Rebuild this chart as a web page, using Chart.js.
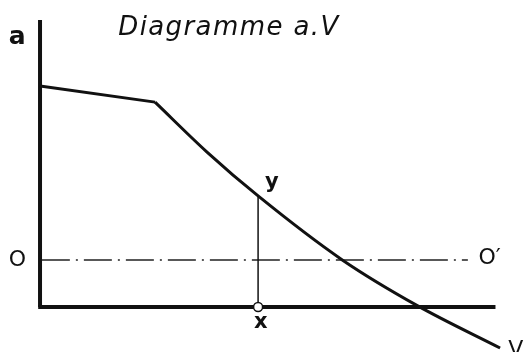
<!DOCTYPE html>
<html>
<head>
<meta charset="utf-8">
<script src="https://cdn.jsdelivr.net/npm/chart.js@4"></script>
<style>
  html, body { margin: 0; padding: 0; background: #fff; }
  #wrap { width: 524px; height: 352px; }
</style>
</head>
<body>
<div id="wrap"><canvas id="chart" width="524" height="352"></canvas></div>
<script>
// values in diagram units: V from 0 to 100 along the bottom axis, a from 0 to 100 up the side
const flatV = [0, 25];
const flatA = [77, 71.4];
const curveV = [25, 36.3, 47.4, 65.7, 82.2, 100];
const curveA = [71.4, 54, 38.7, 16.4, 0.3, -14.3];
const pointX = 47.4;          // the x / y construction line
const pointY = 38.7;
const lineO = 16.4;           // level of O - O'
const lineOEnd = 93;
const axisVEnd = 99;
const axisAEnd = 100;

const pts = (xs, ys) => xs.map((x, i) => ({ x: x, y: ys[i] }));

const labels = {
  id: 'labels',
  afterDatasetsDraw(chart) {
    const { ctx, scales: { x, y } } = chart;
    ctx.save();
    ctx.fillStyle = '#111';
    ctx.textBaseline = 'middle';
    ctx.textAlign = 'left';
    ctx.font = 'italic 26px "DejaVu Sans"';
    ctx.letterSpacing = '1.4px';
    ctx.fillText('Diagramme a.V', x.getPixelForValue(17), y.getPixelForValue(97.2));
    ctx.letterSpacing = '0px';
    ctx.font = 'bold 25px "DejaVu Sans"';
    ctx.fillText('a', x.getPixelForValue(-6.8), y.getPixelForValue(94));
    ctx.font = '22px "DejaVu Sans"';
    ctx.fillText('O', x.getPixelForValue(-6.8), y.getPixelForValue(lineO - 0.2));
    ctx.fillText('O\u2032', x.getPixelForValue(95.3), y.getPixelForValue(lineO + 0.4));
    ctx.font = 'bold 21px "DejaVu Sans"';
    ctx.fillText('y', x.getPixelForValue(pointX + 1.5), y.getPixelForValue(pointY + 4.8));
    ctx.fillText('x', x.getPixelForValue(pointX - 0.9), y.getPixelForValue(-5.3));
    ctx.font = '22px "DejaVu Sans"';
    ctx.fillText('V', x.getPixelForValue(101.8), y.getPixelForValue(-15));
    ctx.restore();
  }
};

new Chart(document.getElementById('chart'), {
  type: 'scatter',
  data: {
    datasets: [
      // first dataset is painted last, so the small circle sits on top
      { data: [{ x: pointX, y: 0 }], pointRadius: 4.5, pointBackgroundColor: '#fff', pointBorderColor: '#111',
        pointBorderWidth: 1.5 },
      { data: pts([pointX, pointX], [0, pointY]), showLine: true, borderColor: '#111', borderWidth: 1.5, pointRadius: 0 },
      { data: pts(flatV, flatA), showLine: true, borderColor: '#111', borderWidth: 3, pointRadius: 0 },
      { data: pts(curveV, curveA), showLine: true, borderColor: '#111', borderWidth: 3, pointRadius: 0,
        cubicInterpolationMode: 'monotone' },
      { data: pts([0.4, lineOEnd], [lineO, lineO]), showLine: true, borderColor: '#222', borderWidth: 1.5,
        borderDash: [28, 6, 2, 6], pointRadius: 0 },
      { data: pts([0, 0], [0, axisAEnd]), showLine: true, borderColor: '#111', borderWidth: 4, pointRadius: 0 },
      { data: pts([-0.4, axisVEnd], [0, 0]), showLine: true, borderColor: '#111', borderWidth: 4, pointRadius: 0 }
    ]
  },
  options: {
    responsive: false,
    animation: false,
    layout: { padding: 0, autoPadding: false },
    plugins: { legend: { display: false }, tooltip: { enabled: false } },
    scales: {
      x: { type: 'linear', display: false, min: -8.7, max: 105.2 },
      y: { type: 'linear', display: false, min: -15.7, max: 107 }
    }
  },
  plugins: [labels]
});
</script>
</body>
</html>
